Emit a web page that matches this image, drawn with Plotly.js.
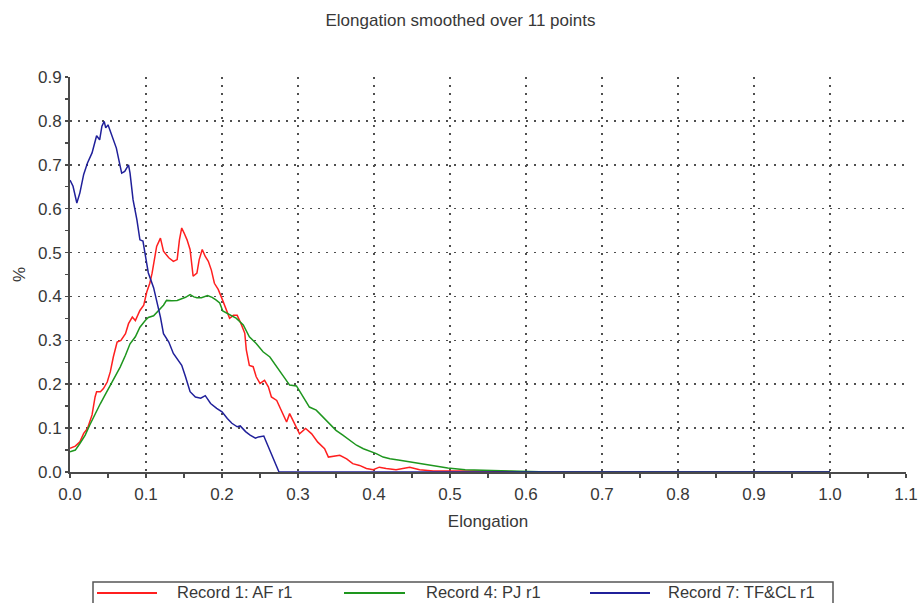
<!DOCTYPE html>
<html>
<head>
<meta charset="utf-8">
<script src="https://cdn.plot.ly/plotly-3.0.1.min.js"></script>
<style>html,body{margin:0;padding:0;background:#fff;}#chart{width:921px;height:603px;}</style>
</head>
<body>
<div id="chart"></div>
<script>
// ---- data ----
const seriesNames = ["Record 1: AF r1", "Record 4: PJ r1", "Record 7: TF&CL r1"];

const redX = [0,0.007,0.013,0.018,0.023,0.029,0.033,0.035,0.04,0.044,
  0.049,0.053,0.057,0.062,0.067,0.073,0.077,0.082,0.086,0.092,
  0.097,0.101,0.105,0.108,0.114,0.119,0.123,0.13,0.136,0.141,
  0.144,0.147,0.15,0.154,0.158,0.162,0.167,0.17,0.174,0.178,
  0.182,0.186,0.19,0.195,0.2,0.204,0.21,0.215,0.22,0.225,
  0.23,0.232,0.236,0.241,0.245,0.25,0.256,0.261,0.265,0.272,
  0.278,0.285,0.289,0.296,0.302,0.31,0.318,0.326,0.335,0.34,
  0.346,0.355,0.364,0.372,0.381,0.39,0.399,0.407,0.416,0.429,
  0.447,0.46,0.478,0.495,0.52,0.55,0.575,0.6,0.8,1.0];
const redY = [0.054,0.059,0.069,0.088,0.099,0.13,0.171,0.183,0.183,0.19,
  0.205,0.228,0.262,0.296,0.30,0.315,0.338,0.353,0.345,0.368,
  0.38,0.41,0.43,0.453,0.514,0.533,0.503,0.488,0.48,0.484,
  0.529,0.556,0.545,0.529,0.507,0.446,0.453,0.484,0.507,0.491,
  0.48,0.46,0.43,0.416,0.395,0.376,0.35,0.357,0.357,0.338,
  0.316,0.278,0.243,0.24,0.217,0.202,0.209,0.194,0.171,0.163,
  0.141,0.114,0.133,0.11,0.087,0.099,0.087,0.068,0.053,0.034,
  0.036,0.038,0.03,0.019,0.015,0.008,0.005,0.011,0.008,0.005,
  0.011,0.005,0.002,0.002,0.003,0.002,0.001,0,0,0];

const greenX = [0,0.007,0.013,0.02,0.026,0.033,0.04,0.046,0.053,0.059,
  0.066,0.073,0.079,0.086,0.092,0.099,0.103,0.11,0.116,0.123,
  0.127,0.134,0.141,0.147,0.152,0.158,0.163,0.167,0.173,0.181,
  0.187,0.192,0.197,0.201,0.206,0.211,0.219,0.228,0.236,0.245,
  0.254,0.263,0.271,0.28,0.289,0.298,0.307,0.315,0.324,0.333,
  0.342,0.35,0.359,0.368,0.377,0.386,0.394,0.403,0.412,0.421,
  0.434,0.447,0.46,0.473,0.486,0.497,0.52,0.55,0.58,0.63,1.0];
const greenY = [0.046,0.05,0.065,0.084,0.107,0.133,0.156,0.175,0.198,0.217,
  0.239,0.266,0.292,0.308,0.33,0.345,0.352,0.356,0.368,0.38,
  0.391,0.39,0.391,0.394,0.398,0.404,0.399,0.397,0.397,0.402,
  0.398,0.392,0.385,0.367,0.362,0.357,0.35,0.335,0.308,0.293,
  0.274,0.262,0.243,0.221,0.198,0.196,0.171,0.148,0.141,0.125,
  0.11,0.095,0.084,0.072,0.061,0.053,0.048,0.042,0.034,0.03,
  0.027,0.023,0.019,0.015,0.011,0.009,0.005,0.003,0.002,0,0];

const blueX = [0,0.004,0.009,0.013,0.018,0.023,0.029,0.035,0.039,0.042,
  0.045,0.047,0.05,0.055,0.061,0.066,0.068,0.072,0.077,0.079,
  0.083,0.088,0.092,0.096,0.099,0.103,0.11,0.116,0.119,0.123,
  0.13,0.136,0.143,0.147,0.152,0.158,0.165,0.172,0.178,0.185,
  0.193,0.2,0.207,0.213,0.22,0.224,0.231,0.237,0.244,0.248,
  0.255,0.261,0.268,0.275,0.5,1.0];
const blueY = [0.665,0.651,0.613,0.636,0.678,0.704,0.727,0.766,0.757,0.788,
  0.799,0.784,0.791,0.765,0.738,0.697,0.681,0.685,0.70,0.681,
  0.62,0.575,0.529,0.526,0.499,0.454,0.42,0.378,0.353,0.315,
  0.296,0.27,0.251,0.243,0.217,0.183,0.171,0.168,0.174,0.156,
  0.145,0.137,0.122,0.111,0.103,0.105,0.092,0.084,0.077,0.08,
  0.082,0.058,0.027,0,0,0];

const colors = ["#ff1f1f", "#1e961e", "#20209a"];

// ---- layout geometry (pixels) ----
const W = 921, H = 603;
const M = {l: 70, r: 15, t: 77, b: 131};
const PW = W - M.l - M.r, PH = H - M.t - M.b;
const px2x = p => (p - M.l) / PW;
const py2y = p => (H - M.b - p) / PH;
const font = '"Liberation Sans", Arial, sans-serif';
const textColor = '#383838';

const traces = [
  {x: redX, y: redY, name: seriesNames[0], color: colors[0]},
  {x: greenX, y: greenY, name: seriesNames[1], color: colors[1]},
  {x: blueX, y: blueY, name: seriesNames[2], color: colors[2]}
].map(s => ({
  type: 'scatter', mode: 'lines', x: s.x, y: s.y, name: s.name,
  line: {color: s.color, width: 1.5}, showlegend: false, hoverinfo: 'skip'
}));

// custom legend (box, sample lines, labels)
const legY = 593;
const legLines = [[97, 157], [344, 405], [590, 650]];
const legText = [176, 425, 667];
const shapes = [{
  type: 'rect', xref: 'paper', yref: 'paper', layer: 'above',
  x0: px2x(93), x1: px2x(833), y0: py2y(582), y1: py2y(612),
  line: {color: '#555', width: 1.5}, fillcolor: 'rgba(0,0,0,0)'
}];
const annotations = [];
seriesNames.forEach((n, i) => {
  shapes.push({type: 'line', xref: 'paper', yref: 'paper', layer: 'above',
    x0: px2x(legLines[i][0]), x1: px2x(legLines[i][1]), y0: py2y(legY), y1: py2y(legY),
    line: {color: colors[i], width: 2}});
  annotations.push({xref: 'paper', yref: 'paper', x: px2x(legText[i]), y: py2y(602),
    xanchor: 'left', yanchor: 'bottom', showarrow: false, text: n, borderpad: 0,
    font: {family: font, size: 16.5, color: textColor}});
});

const axisCommon = {
  showline: true, linecolor: '#4a4a4a', linewidth: 2,
  showgrid: true, gridcolor: '#4f4f4f', gridwidth: 1.6, griddash: '2px,6px',
  zeroline: false, ticks: 'outside', ticklen: 4, tickwidth: 1.5, tickcolor: '#4a4a4a',
  tickformat: '.1f', dtick: 0.1, tick0: 0,
  tickfont: {family: font, size: 17, color: textColor},
  minor: {dtick: 0.05, ticks: 'outside', ticklen: 4, tickwidth: 1.5, tickcolor: '#4a4a4a', showgrid: false},
  fixedrange: true, automargin: false, layer: 'below traces'
};

const layout = {
  width: W, height: H, margin: M,
  paper_bgcolor: '#fff', plot_bgcolor: '#fff',
  font: {family: font, color: textColor},
  title: {text: 'Elongation smoothed over 11 points', x: 0.5, xref: 'container', xanchor: 'center',
    y: 1 - 20 / H, yref: 'container', yanchor: 'middle',
    font: {family: font, size: 17, color: textColor}},
  xaxis: Object.assign({}, axisCommon, {range: [0, 1.1], ticklabelstandoff: 2,
    title: {text: 'Elongation', standoff: 12, font: {family: font, size: 17, color: textColor}}}),
  yaxis: Object.assign({}, axisCommon, {range: [0, 0.9], ticklen: 3,
    minor: Object.assign({}, axisCommon.minor, {ticklen: 3}),
    title: {text: '%', standoff: 8, font: {family: font, size: 17, color: textColor}}}),
  shapes: shapes, annotations: annotations, showlegend: false
};

Plotly.newPlot('chart', traces, layout, {displayModeBar: false, staticPlot: true});
</script>
</body>
</html>
